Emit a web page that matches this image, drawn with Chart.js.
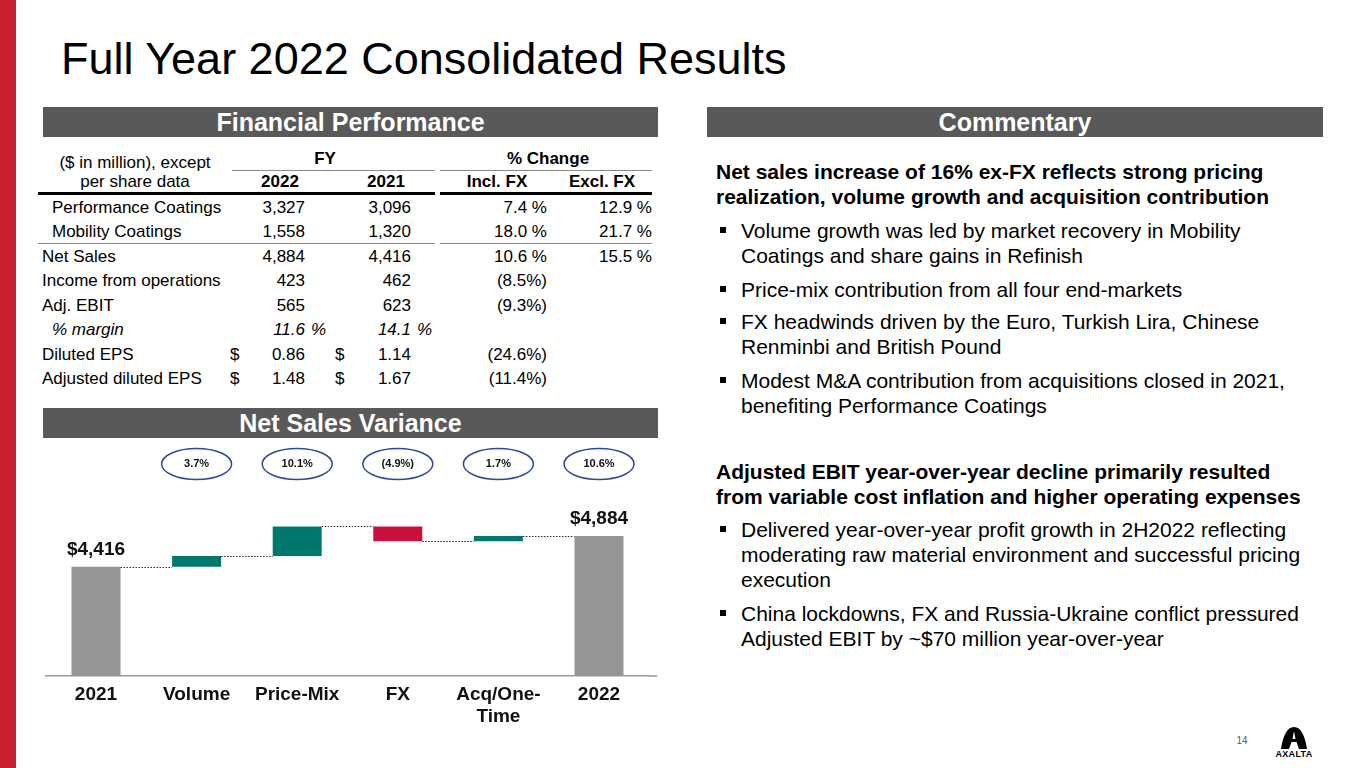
<!DOCTYPE html>
<html><head><meta charset="utf-8">
<script src="https://cdn.jsdelivr.net/npm/chart.js@4.4.1/dist/chart.umd.min.js"></script>
<style>
body{margin:0;width:1365px;height:768px;overflow:hidden;background:#fff;font-family:"Liberation Sans",Arial,sans-serif;position:relative;color:#000}
.abs{position:absolute;white-space:nowrap}
.hdr{position:absolute;background:#595959;color:#fff;font-weight:bold;font-size:25px;text-align:center;height:30px;line-height:30px}
.cell{position:absolute;white-space:nowrap;font-size:17px;height:24px;line-height:24px}
.ln{position:absolute;height:25px;line-height:25px;font-size:21px;white-space:nowrap}
.sq{position:absolute;width:6px;height:6px;background:#000}
.hl{position:absolute}
</style>
</head><body>
<div class="abs" style="left:0;top:0;width:16px;height:768px;background:#C8202F"></div>
<div class="abs" style="left:61px;top:33px;font-size:45px;line-height:52px">Full Year 2022 Consolidated Results</div>
<div class="hdr" style="left:43px;top:107px;width:615px">Financial Performance</div>
<div class="hdr" style="left:707px;top:107px;width:616px">Commentary</div>
<div class="hdr" style="left:43px;top:408px;width:615px">Net Sales Variance</div>
<div id="table"></div>
<div id="comment"></div>
<div class="abs" style="left:40px;top:440px;width:620px;height:300px"><canvas id="c" width="620" height="300"></canvas></div>
<div class="abs" style="left:1232px;top:735px;font-size:10px;color:#595959;width:20px;text-align:center">14</div>
<svg class="abs" style="left:1272px;top:725px" width="44" height="34" viewBox="0 0 44 34">
<path d="M9 24 C11 11 15 2 22 2 C29 2 33 11 35 24 L27 24 L24.5 17 L19.5 17 L17 24 Z" fill="#000"/>
<path d="M20.5 14 L22 6 L23.5 14 Z" fill="#fff"/>
<text x="22" y="32" text-anchor="middle" font-family="Liberation Sans, Arial" font-weight="bold" font-size="9" letter-spacing="0.3">AXALTA</text>
</svg>
<script>
// ---------- Data ----------
const categories = ['2021', 'Volume', 'Price-Mix', 'FX', ['Acq/One-', 'Time'], '2022'];
const startTotal = 4416;
const stepChanges = [163, 450, -225, 80];
const endTotal = 4884;
const stepPctLabels = ['3.7%', '10.1%', '(4.9%)', '1.7%', '10.6%'];
const totalLabels = ['$4,416', '$4,884'];

const rowLabels = ['Performance Coatings', 'Mobility Coatings', 'Net Sales', 'Income from operations', 'Adj. EBIT', '% margin', 'Diluted EPS', 'Adjusted diluted EPS'];
const fy2022 = ['3,327', '1,558', '4,884', '423', '565', '11.6', '0.86', '1.48'];
const fy2021 = ['3,096', '1,320', '4,416', '462', '623', '14.1', '1.14', '1.67'];
const inclFx = ['7.4 %', '18.0 %', '10.6 %', '(8.5%)', '(9.3%)', '', '(24.6%)', '(11.4%)'];
const exclFx = ['12.9 %', '21.7 %', '15.5 %', '', '', '', '', ''];

const commentary = [
  {t: 'h', lines: ['Net sales increase of 16% ex-FX reflects strong pricing', 'realization, volume growth and acquisition contribution'], y: [171, 196]},
  {t: 'b', lines: ['Volume growth was led by market recovery in Mobility', 'Coatings and share gains in Refinish'], y: [230, 255]},
  {t: 'b', lines: ['Price-mix contribution from all four end-markets'], y: [289]},
  {t: 'b', lines: ['FX headwinds driven by the Euro, Turkish Lira, Chinese', 'Renminbi and British Pound'], y: [321, 346]},
  {t: 'b', lines: ['Modest M&A contribution from acquisitions closed in 2021,', 'benefiting Performance Coatings'], y: [380, 405]},
  {t: 'h', lines: ['Adjusted EBIT year-over-year decline primarily resulted', 'from variable cost inflation and higher operating expenses'], y: [471, 496]},
  {t: 'b', lines: ['Delivered year-over-year profit growth in 2H2022 reflecting', 'moderating raw material environment and successful pricing', 'execution'], y: [529, 554, 579]},
  {t: 'b', lines: ['China lockdowns, FX and Russia-Ukraine conflict pressured', 'Adjusted EBIT by ~$70 million year-over-year'], y: [613, 638]}
];

// ---------- Table ----------
const T = document.getElementById('table');
function addText(txt, x, yc, align, extra) {
  const d = document.createElement('div');
  d.className = 'cell';
  d.textContent = txt;
  d.style.top = (yc - 12) + 'px';
  if (align === 'right') { d.style.left = (x - 300) + 'px'; d.style.width = '300px'; d.style.textAlign = 'right'; }
  else if (align === 'center') { d.style.left = (x - 150) + 'px'; d.style.width = '300px'; d.style.textAlign = 'center'; }
  else { d.style.left = x + 'px'; }
  if (extra) Object.assign(d.style, extra);
  T.appendChild(d);
}
function addLine(x1, x2, y, h, col) {
  const d = document.createElement('div');
  d.className = 'hl';
  Object.assign(d.style, {left: x1 + 'px', width: (x2 - x1) + 'px', top: y + 'px', height: h + 'px', background: col});
  T.appendChild(d);
}
const B = {fontWeight: 'bold'};
addText('($ in million), except', 135, 163, 'center');
addText('per share data', 135, 182, 'center');
addText('FY', 325, 159, 'center', B);
addText('% Change', 548, 159, 'center', B);
addText('2022', 280, 182, 'center', B);
addText('2021', 386, 182, 'center', B);
addText('Incl. FX', 497, 182, 'center', B);
addText('Excl. FX', 602, 182, 'center', B);
addLine(232, 435, 170, 1, '#8a8a8a');
addLine(440, 652, 170, 1, '#8a8a8a');
addLine(38, 435, 192, 3, '#000');
addLine(440, 652, 192, 3, '#000');
addLine(38, 435, 243, 1, '#8a8a8a');
addLine(440, 652, 243, 1, '#8a8a8a');
rowLabels.forEach((lab, i) => {
  const yc = 208 + i * 24.45;
  const indent = (i === 0 || i === 1 || i === 5) ? 52 : 42;
  const it = i === 5 ? {fontStyle: 'italic'} : null;
  addText(lab, indent, yc, 'left', it);
  addText(fy2022[i], 305, yc, 'right', it);
  addText(fy2021[i], 411, yc, 'right', it);
  if (i === 5) {
    addText('%', 311, yc, 'left', it);
    addText('%', 417, yc, 'left', it);
  }
  if (i >= 6) { addText('$', 230, yc, 'left'); addText('$', 335, yc, 'left'); }
  if (inclFx[i]) addText(inclFx[i], 547, yc, 'right');
  if (exclFx[i]) addText(exclFx[i], 652, yc, 'right');
});

// ---------- Commentary ----------
const C = document.getElementById('comment');
commentary.forEach(blk => {
  blk.lines.forEach((l, j) => {
    const d = document.createElement('div');
    d.className = 'ln';
    d.textContent = l;
    d.style.top = (blk.y[j] - 12.5) + 'px';
    if (blk.t === 'h') { d.style.left = '716px'; d.style.fontWeight = 'bold'; }
    else { d.style.left = '741px'; }
    C.appendChild(d);
  });
  if (blk.t === 'b') {
    const s = document.createElement('div');
    s.className = 'sq';
    s.style.left = '720px';
    s.style.top = (blk.y[0] - 3) + 'px';
    C.appendChild(s);
  }
});

// ---------- Waterfall ----------
const Y_MIN = 2750, Y_MAX = 5432;
const barData = [], barColors = [], levels = [];
let run = startTotal;
barData.push(startTotal); barColors.push('#959595'); levels.push(run);
stepChanges.forEach(v => {
  barData.push([run, run + v]);
  barColors.push(v >= 0 ? '#00786C' : '#C8103C');
  run += v; levels.push(run);
});
barData.push(endTotal); barColors.push('#959595');

Chart.defaults.font.family = '"Liberation Sans", Arial, sans-serif';

const annot = {
  id: 'annot',
  afterDatasetsDraw(chart) {
    const ctx = chart.ctx, meta = chart.getDatasetMeta(0), y = chart.scales.y, ca = chart.chartArea;
    ctx.save();
    // connectors
    ctx.strokeStyle = '#2a2a2a'; ctx.lineWidth = 1; ctx.setLineDash([1.5, 1.5]);
    for (let i = 0; i < levels.length; i++) {
      const a = meta.data[i], b = meta.data[i + 1];
      const py = Math.round(y.getPixelForValue(levels[i])) + 0.5;
      ctx.beginPath();
      ctx.moveTo(a.x + a.width / 2, py);
      ctx.lineTo(b.x - b.width / 2, py);
      ctx.stroke();
    }
    ctx.setLineDash([]);
    // axis extension
    ctx.strokeStyle = '#9a9a9a'; ctx.lineWidth = 1.5;
    ctx.beginPath(); ctx.moveTo(ca.right, ca.bottom); ctx.lineTo(ca.right + 8, ca.bottom); ctx.stroke();
    // total labels
    ctx.fillStyle = '#111'; ctx.font = 'bold 19px "Liberation Sans", Arial, sans-serif';
    ctx.textAlign = 'center'; ctx.textBaseline = 'middle';
    [0, meta.data.length - 1].forEach((idx, k) => {
      const el = meta.data[idx];
      ctx.fillText(totalLabels[k], el.x, el.y - 17);
    });
    // ellipses
    ctx.font = 'bold 11px "Liberation Sans", Arial, sans-serif';
    stepPctLabels.forEach((lab, k) => {
      const el = meta.data[k + 1];
      ctx.beginPath();
      ctx.ellipse(el.x, 24, 35, 15.5, 0, 0, Math.PI * 2);
      ctx.strokeStyle = '#2E4A9C'; ctx.lineWidth = 1.5; ctx.stroke();
      ctx.fillStyle = '#111';
      ctx.fillText(lab, el.x, 24);
    });
    ctx.restore();
  }
};

new Chart(document.getElementById('c'), {
  type: 'bar',
  data: {labels: categories, datasets: [{data: barData, backgroundColor: barColors, borderWidth: 0, barPercentage: 0.487, categoryPercentage: 1}]},
  options: {
    responsive: false, animation: false,
    layout: {padding: {left: 5.7, right: 10.7, top: 60, bottom: 0}},
    plugins: {legend: {display: false}, tooltip: {enabled: false}},
    scales: {
      x: {
        grid: {display: false, drawTicks: false},
        border: {display: true, color: '#9a9a9a', width: 1.5},
        ticks: {color: '#111', padding: 8, font: {size: 19, weight: 'bold', lineHeight: 1.16}, maxRotation: 0, autoSkip: false},
        afterFit(s) { s.height = 64; }
      },
      y: {display: false, min: Y_MIN, max: Y_MAX}
    }
  },
  plugins: [annot]
});
</script>
</body></html>
